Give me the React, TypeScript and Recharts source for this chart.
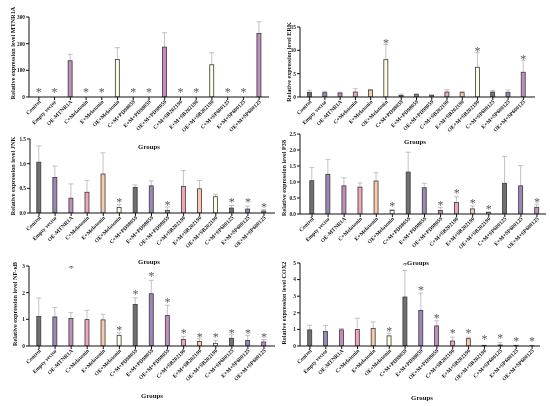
import React from 'react';
import { ComposedChart, Bar, Line, XAxis, YAxis, Cell } from 'recharts';

const GROUPS = [
  'Control', 'Empty vector', 'OE-MTNR1A', 'C+Melatonin', 'E+Melatonin', 'OE+Melatonin',
  'C+M+PD98059', 'E+M+PD98059', 'OE+M+PD98059', 'C+M+SB202190', 'E+M+SB202190',
  'OE+M+SB202190', 'C+M+SP600125', 'E+M+SP600125', 'OE+M+SP600125',
];

// colours repeat every six groups
const BAR_COLORS = ['#707070', '#9c86b9', '#c28ec2', '#f2a5b9', '#fcc9ae', '#fdfde2'];

const _ = null;

const MTNR1A_MEAN = [0, 0, 136, 0, 0, 141, 0, 0, 187, 0, 0, 121, 0, 0, 238];
const MTNR1A_ERR = [_, _, 160, _, _, 185, _, _, 241, _, _, 166, _, _, 282];
const MTNR1A_STAR = [25, 25, _, 25, 25, _, 25, 25, _, 25, 25, _, 25, 25, _];
const MTNR1A_TICKS = [0, 100, 200, 300];

const ERK_MEAN = [1.0, 0.92, 0.85, 1.06, 1.49, 8.0, 0.35, 0.5, 0.35, 1.06, 0.92, 6.37, 1.06, 1.0, 5.3];
const ERK_ERR = [1.45, 1.2, 1.0, 1.77, 1.6, 11.25, 0.64, 0.7, 0.5, 1.56, 1.2, 9.48, 1.41, 1.5, 7.9];
const ERK_STAR = [_, _, _, _, _, 12.0, _, _, _, _, _, 10.3, _, _, 8.6];
const ERK_TICKS = [0, 5, 10, 15];

const JNK_MEAN = [1.03, 0.72, 0.3, 0.42, 0.79, 0.11, 0.52, 0.55, 0.05, 0.54, 0.49, 0.33, 0.1, 0.08, 0.04];
const JNK_ERR = [1.36, 0.95, 0.59, 0.66, 1.22, 0.17, 0.57, 0.65, 0.12, 0.86, 0.66, 0.38, 0.15, 0.14, 0.07];
const JNK_STAR = [_, _, _, _, _, 0.25, _, _, 0.2, _, _, _, 0.25, 0.25, 0.15];
const JNK_TICKS = [0, 0.5, 1.0, 1.5];

const P38_MEAN = [1.04, 1.24, 0.88, 0.84, 1.03, 0.11, 1.31, 0.82, 0.11, 0.36, 0.16, 0.05, 0.96, 0.88, 0.21];
const P38_ERR = [1.45, 1.7, 1.13, 0.97, 1.29, 0.14, 1.93, 0.96, 0.2, 0.54, 0.25, 0.07, 1.8, 1.51, 0.31];
const P38_STAR = [_, _, _, _, _, 0.31, _, _, 0.33, 0.7, 0.41, 0.21, _, _, 0.44];
const P38_TICKS = [0, 0.5, 1.0, 1.5, 2.0, 2.5];

const NFKB_MEAN = [1.11, 1.09, 1.03, 0.99, 0.98, 0.4, 1.56, 1.96, 1.14, 0.25, 0.17, 0.1, 0.29, 0.21, 0.15];
const NFKB_ERR = [1.8, 1.44, 1.25, 1.34, 1.19, 0.5, 1.81, 2.46, 1.53, 0.36, 0.27, 0.21, 0.42, 0.4, 0.24];
const NFKB_STAR = [_, _, 3.0, _, _, 0.68, 2.03, 2.68, 1.71, 0.55, 0.4, 0.4, 0.56, 0.56, 0.4];
const NFKB_TICKS = [0, 1, 2, 3];

const COX2_MEAN = [0.97, 0.87, 0.97, 1.0, 1.05, 0.61, 2.95, 2.14, 1.21, 0.3, 0.44, 0.04, 0.06, 0.04, 0.02];
const COX2_ERR = [1.25, 1.23, 1.05, 1.67, 1.45, 0.77, 4.55, 3.19, 1.52, 0.53, 0.52, _, 0.2, _, _];
const COX2_STAR = [_, _, _, _, _, 1.03, 5.0, 3.45, 1.78, 0.87, 0.87, 0.5, 0.57, 0.43, 0.43];
const COX2_TICKS = [0, 1, 2, 3, 4, 5];

const FONT = '"Liberation Serif", "Times New Roman", serif';
const YW = 30;
const MT = 16;
const MR = 2;
const XH = 58;

const PANELS = [
  { key: 'mtnr1a', title: 'Relative expression level MTNR1A', mean: MTNR1A_MEAN, err: MTNR1A_ERR, star: MTNR1A_STAR, ticks: MTNR1A_TICKS, digits: 0,
    left: 29, top: 17, w: 240, h: 80, pad: { left: 2, right: 2 }, tx: 12.5, ty: 53, gx: 149, gy: 147 },
  { key: 'erk', title: 'Relative expression level ERK', mean: ERK_MEAN, err: ERK_ERR, star: ERK_STAR, ticks: ERK_TICKS, digits: 0,
    left: 300, top: 27, w: 235, h: 70, pad: { left: 2, right: 4 }, tx: 289, ty: 62, gx: 415, gy: 142 },
  { key: 'jnk', title: 'Relative expression level JNK', mean: JNK_MEAN, err: JNK_ERR, star: JNK_STAR, ticks: JNK_TICKS, digits: 1,
    left: 30, top: 139, w: 245, h: 74, pad: { left: 1, right: 3 }, tx: 12.5, ty: 176, gx: 149, gy: 262 },
  { key: 'p38', title: 'Relative expression level P38', mean: P38_MEAN, err: P38_ERR, star: P38_STAR, ticks: P38_TICKS, digits: 1,
    left: 300, top: 134, w: 246, h: 80, pad: { left: 4, right: 1 }, tx: 283.5, ty: 178, gx: 418, gy: 263 },
  { key: 'nfkb', title: 'Relative expression level NF-κB', mean: NFKB_MEAN, err: NFKB_ERR, star: NFKB_STAR, ticks: NFKB_TICKS, digits: 0,
    left: 29, top: 266, w: 246, h: 80, pad: { left: 2, right: 3 }, tx: 14.5, ty: 304, gx: 152, gy: 396 },
  { key: 'cox2', title: 'Relative expression level COX2', mean: COX2_MEAN, err: COX2_ERR, star: COX2_STAR, ticks: COX2_TICKS, digits: 0,
    left: 300, top: 263, w: 240, h: 83, pad: { left: 2, right: 0 }, tx: 283.5, ty: 303, gx: 422, gy: 398 },
];

// bar outline plus an upper-only error whisker, scaled off the bar's own height
const BarWithError = (props: any) => {
  const { x, y, width, height, fill, payload } = props;
  if (!height || height <= 0) return <g />;
  const cx = x + width / 2;
  const base = y + height;
  let whisker = null;
  if (payload.err != null && payload.mean > 0) {
    const topY = base - (payload.err / payload.mean) * height;
    whisker = (
      <g stroke="#b4b4b4" strokeWidth={0.8}>
        <line x1={cx} y1={y} x2={cx} y2={topY} />
        <line x1={cx - 2.5} y1={topY} x2={cx + 2.5} y2={topY} />
      </g>
    );
  }
  return (
    <g>
      {whisker}
      <rect x={x} y={y} width={width} height={height} fill={fill} stroke="#3a3a3a" strokeWidth={0.8} />
    </g>
  );
};

const StarDot = (props: any) => {
  const { cx, cy, value, index } = props;
  if (value == null || cy == null || isNaN(cy)) return <g key={`s${index}`} />;
  return (
    <text key={`s${index}`} x={cx} y={cy} dy="0.47em" textAnchor="middle" fontSize={12}
      fontFamily={FONT} fill="#5a5a5a">*</text>
  );
};

const GroupTick = (props: any) => {
  const { x, y, payload } = props;
  return (
    <text x={x + 1} y={y + 1} transform={`rotate(-45 ${x + 1} ${y + 1})`} textAnchor="end" dy="0.3em"
      fontSize={5.5} fontWeight={700} fontFamily={FONT} fill="#111">{payload.value}</text>
  );
};

function Panel({ p }: { p: any }) {
  const rows = GROUPS.map((g, i) => ({ group: g, mean: p.mean[i], err: p.err[i], star: p.star[i] }));
  const chartLeft = p.left - YW;
  const chartTop = p.top - MT;
  const width = YW + p.w + MR;
  const height = MT + p.h + XH;
  const max = p.ticks[p.ticks.length - 1];

  return (
    <div style={{ position: 'absolute', left: chartLeft, top: chartTop, willChange: 'transform' }}>
      <ComposedChart width={width} height={height} data={rows}
        margin={{ top: MT, right: MR, bottom: 0, left: 0 }} barCategoryGap="36%">
        <XAxis dataKey="group" interval={0} height={XH} padding={p.pad}
          tick={<GroupTick />} tickSize={3} tickMargin={0}
          axisLine={{ stroke: '#111', strokeWidth: 1 }} tickLine={{ stroke: '#111' }}
          label={() => (
            <text x={p.gx - chartLeft} y={p.gy - chartTop} dy="0.35em" textAnchor="middle"
              fontSize={6.8} fontWeight={700} fontFamily={FONT} fill="#111">Groups</text>
          )} />
        <YAxis width={YW} domain={[0, max]} ticks={p.ticks} allowDataOverflow
          tickFormatter={(v: number) => v.toFixed(p.digits)}
          tick={{ fontSize: 5.3, fontWeight: 700, fontFamily: FONT, fill: '#111' }}
          tickSize={3} tickMargin={1}
          axisLine={{ stroke: '#111', strokeWidth: 1 }} tickLine={{ stroke: '#111' }}
          label={() => (
            <text x={p.tx - chartLeft} y={p.ty - chartTop} dy="0.35em" textAnchor="middle"
              transform={`rotate(-90 ${p.tx - chartLeft} ${p.ty - chartTop})`}
              fontSize={6.2} fontWeight={700} fontFamily={FONT} fill="#111">{p.title}</text>
          )} />
        <Bar dataKey="mean" isAnimationActive={false} shape={BarWithError}>
          {rows.map((r, i) => <Cell key={r.group} fill={BAR_COLORS[i % BAR_COLORS.length]} />)}
        </Bar>
        <Line dataKey="star" stroke="none" isAnimationActive={false} dot={StarDot} activeDot={false}
          legendType="none" connectNulls={false} />
      </ComposedChart>
    </div>
  );
}

export default function App() {
  return (
    <div style={{ position: 'absolute', left: 0, top: 0, width: 550, height: 406, overflow: 'hidden', background: '#fff' }}>
      {PANELS.map(p => <Panel key={p.key} p={p} />)}
    </div>
  );
}
